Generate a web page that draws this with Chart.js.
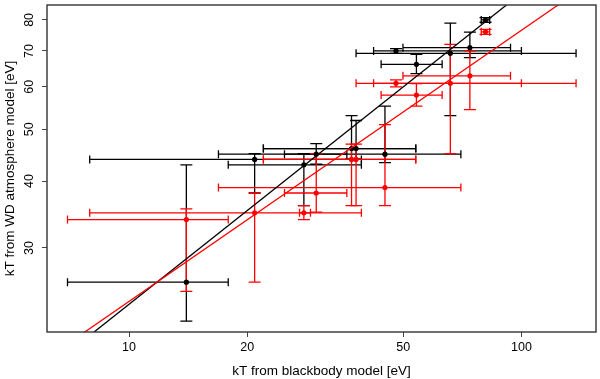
<!DOCTYPE html>
<html>
<head>
<meta charset="utf-8">
<script src="https://cdn.jsdelivr.net/npm/chart.js@4.4.1/dist/chart.umd.min.js"></script>
<style>
  html, body { margin: 0; padding: 0; background: #fff; }
</style>
</head>
<body>
<canvas id="grafico" width="600" height="379"></canvas>
<script>
// ===============================
// DATA (kT in eV)
// ===============================

const xTicks = [10, 20, 50, 100];
const yTicks = [30, 40, 50, 60, 70, 80];

// black: blackbody vs WD atmosphere, first model
const blackX    = [14.0, 20.9, 27.9, 30.0, 36.9, 37.9, 44.9, 47.9, 54.0, 65.9, 73.9, 81.0];
const blackY    = [25.9, 43.9, 42.9, 44.9, 46.0, 46.0, 44.9, 70.0, 66.1, 69.3, 71.0, 80.0];
const blackXmin = [6.97, 7.94, 17.9, 24.9, 22.0, 22.0, 16.9, 42.0, 43.9, 37.9, 49.9, 79.0];
const blackXmax = [17.9, 39.1, 39.1, 35.9, 53.8, 53.8, 70.1, 100, 62.8, 137.8, 93.8, 83.0];
const blackYmin = [21.9, 38.0, 36.0, 43.0, 44.0, 44.0, 43.3, 69.3, 63.5, 53.0, 68.0, 79.2];
const blackYmax = [42.9, 45.0, 45.0, 47.0, 53.0, 51.9, 55.2, 70.7, 69.0, 78.9, 75.9, 80.8];

// red: second model
const redX    = [14.0, 20.9, 27.9, 30.0, 36.9, 37.9, 44.9, 47.9, 54.0, 65.9, 73.9, 81.0];
const redY    = [33.9, 34.9, 34.9, 38.0, 43.9, 43.9, 38.9, 60.9, 57.9, 60.9, 62.9, 76.0];
const redXmin = [6.97, 7.94, 27.2, 24.9, 22.0, 22.0, 16.9, 42.0, 43.9, 37.9, 49.9, 79.0];
const redXmax = [17.9, 39.1, 29.0, 35.9, 53.8, 53.8, 70.1, 100, 62.8, 137.8, 93.8, 83.0];
const redYmin = [24.9, 25.9, 33.9, 35.0, 36.0, 36.0, 36.0, 60.0, 55.2, 45.0, 54.4, 75.2];
const redYmax = [35.5, 38.0, 36.0, 45.0, 46.9, 46.9, 51.0, 61.8, 60.8, 72.0, 70.0, 76.8];

// fitted lines, end points where they leave the box
const blackFitX = [8.06, 91.6];
const blackFitY = [20.77, 85.3];
const redFitX = [7.62, 124.0];
const redFitY = [20.77, 85.3];

const FONT = "'Liberation Sans', Arial, Helvetica, sans-serif";

function pts(xs, ys) {
    return xs.map((x, i) => ({ x: x, y: ys[i] }));
}

// ===============================
// PLUGINS
// ===============================

// error bars with caps, drawn under the points
const errorBars = {
    id: "errorBars",
    beforeDatasetsDraw(chart) {
        const ctx = chart.ctx;
        const sx = chart.scales.x;
        const sy = chart.scales.y;
        const area = chart.chartArea;
        const series = [
            { c: "#000", x: blackX, y: blackY, x0: blackXmin, x1: blackXmax, y0: blackYmin, y1: blackYmax },
            { c: "#ff0000", x: redX, y: redY, x0: redXmin, x1: redXmax, y0: redYmin, y1: redYmax }
        ];
        ctx.save();
        ctx.beginPath();
        ctx.rect(area.left, area.top, area.right - area.left, area.bottom - area.top);
        ctx.clip();
        ctx.lineWidth = 1.3;
        series.forEach(s => {
            ctx.strokeStyle = s.c;
            s.x.forEach((xv, i) => {
                const px = sx.getPixelForValue(xv);
                const py = sy.getPixelForValue(s.y[i]);
                const xa = sx.getPixelForValue(s.x0[i]);
                const xb = sx.getPixelForValue(s.x1[i]);
                const ya = sy.getPixelForValue(s.y0[i]);
                const yb = sy.getPixelForValue(s.y1[i]);
                ctx.beginPath();
                // horizontal
                ctx.moveTo(xa, py); ctx.lineTo(xb, py);
                ctx.moveTo(xa, py - 4); ctx.lineTo(xa, py + 4);
                ctx.moveTo(xb, py - 4); ctx.lineTo(xb, py + 4);
                // vertical
                ctx.moveTo(px, ya); ctx.lineTo(px, yb);
                ctx.moveTo(px - 6, ya); ctx.lineTo(px + 6, ya);
                ctx.moveTo(px - 6, yb); ctx.lineTo(px + 6, yb);
                ctx.stroke();
            });
        });
        ctx.restore();
    }
};

// box around the plot and rotated y tick labels (R style)
const frame = {
    id: "frame",
    afterDraw(chart) {
        const ctx = chart.ctx;
        const a = chart.chartArea;
        const sy = chart.scales.y;
        ctx.save();
        ctx.strokeStyle = "#333";
        ctx.lineWidth = 1.4;
        ctx.strokeRect(a.left, a.top, a.right - a.left, a.bottom - a.top);
        ctx.fillStyle = "#000";
        ctx.font = "12.5px " + FONT;
        ctx.textAlign = "center";
        ctx.textBaseline = "middle";
        yTicks.forEach(v => {
            ctx.save();
            ctx.translate(a.left - 17, sy.getPixelForValue(v));
            ctx.rotate(-Math.PI / 2);
            ctx.fillText(String(v), 0, 0);
            ctx.restore();
        });
        ctx.restore();
    }
};

// ===============================
// CHART
// ===============================

new Chart(document.getElementById("grafico"), {
    type: "scatter",
    data: {
        datasets: [
            {
                type: "line",
                data: pts(redFitX, redFitY),
                borderColor: "#ff0000",
                borderWidth: 1.3,
                pointRadius: 0
            },
            {
                type: "line",
                data: pts(blackFitX, blackFitY),
                borderColor: "#000",
                borderWidth: 1.3,
                pointRadius: 0
            },
            {
                data: pts(redX, redY),
                backgroundColor: "#ff0000",
                borderWidth: 0,
                pointRadius: 2.6
            },
            {
                data: pts(blackX, blackY),
                backgroundColor: "#000",
                borderWidth: 0,
                pointRadius: 2.6
            }
        ]
    },
    options: {
        responsive: false,
        animation: false,
        layout: { padding: { top: 5, right: 3, left: 0, bottom: 0 } },
        plugins: {
            legend: { display: false },
            tooltip: { enabled: false }
        },
        scales: {
            x: {
                type: "logarithmic",
                min: 6.18,
                max: 154.9,
                afterBuildTicks: s => { s.ticks = xTicks.map(v => ({ value: v })); },
                afterFit: s => { s.height = 47; },
                ticks: {
                    callback: v => String(v),
                    autoSkip: false,
                    maxRotation: 0,
                    padding: 3,
                    color: "#000",
                    font: { family: FONT, size: 12.5 }
                },
                grid: { drawOnChartArea: false, tickLength: 5, color: "#444" },
                border: { display: false },
                title: {
                    display: true,
                    text: "kT from blackbody model [eV]",
                    color: "#000",
                    font: { family: FONT, size: 13.5 },
                    padding: { top: 0, bottom: 0 }
                }
            },
            y: {
                type: "logarithmic",
                min: 20.9,
                max: 85.3,
                afterBuildTicks: s => { s.ticks = yTicks.map(v => ({ value: v })); },
                afterFit: s => { s.width = 47; },
                ticks: { display: false },
                grid: { drawOnChartArea: false, tickLength: 5, color: "#444" },
                border: { display: false },
                title: {
                    display: true,
                    text: "kT from WD atmosphere model [eV]",
                    color: "#000",
                    font: { family: FONT, size: 13.5 },
                    padding: { top: 2, bottom: 0 }
                }
            }
        }
    },
    plugins: [errorBars, frame]
});
</script>
</body>
</html>
